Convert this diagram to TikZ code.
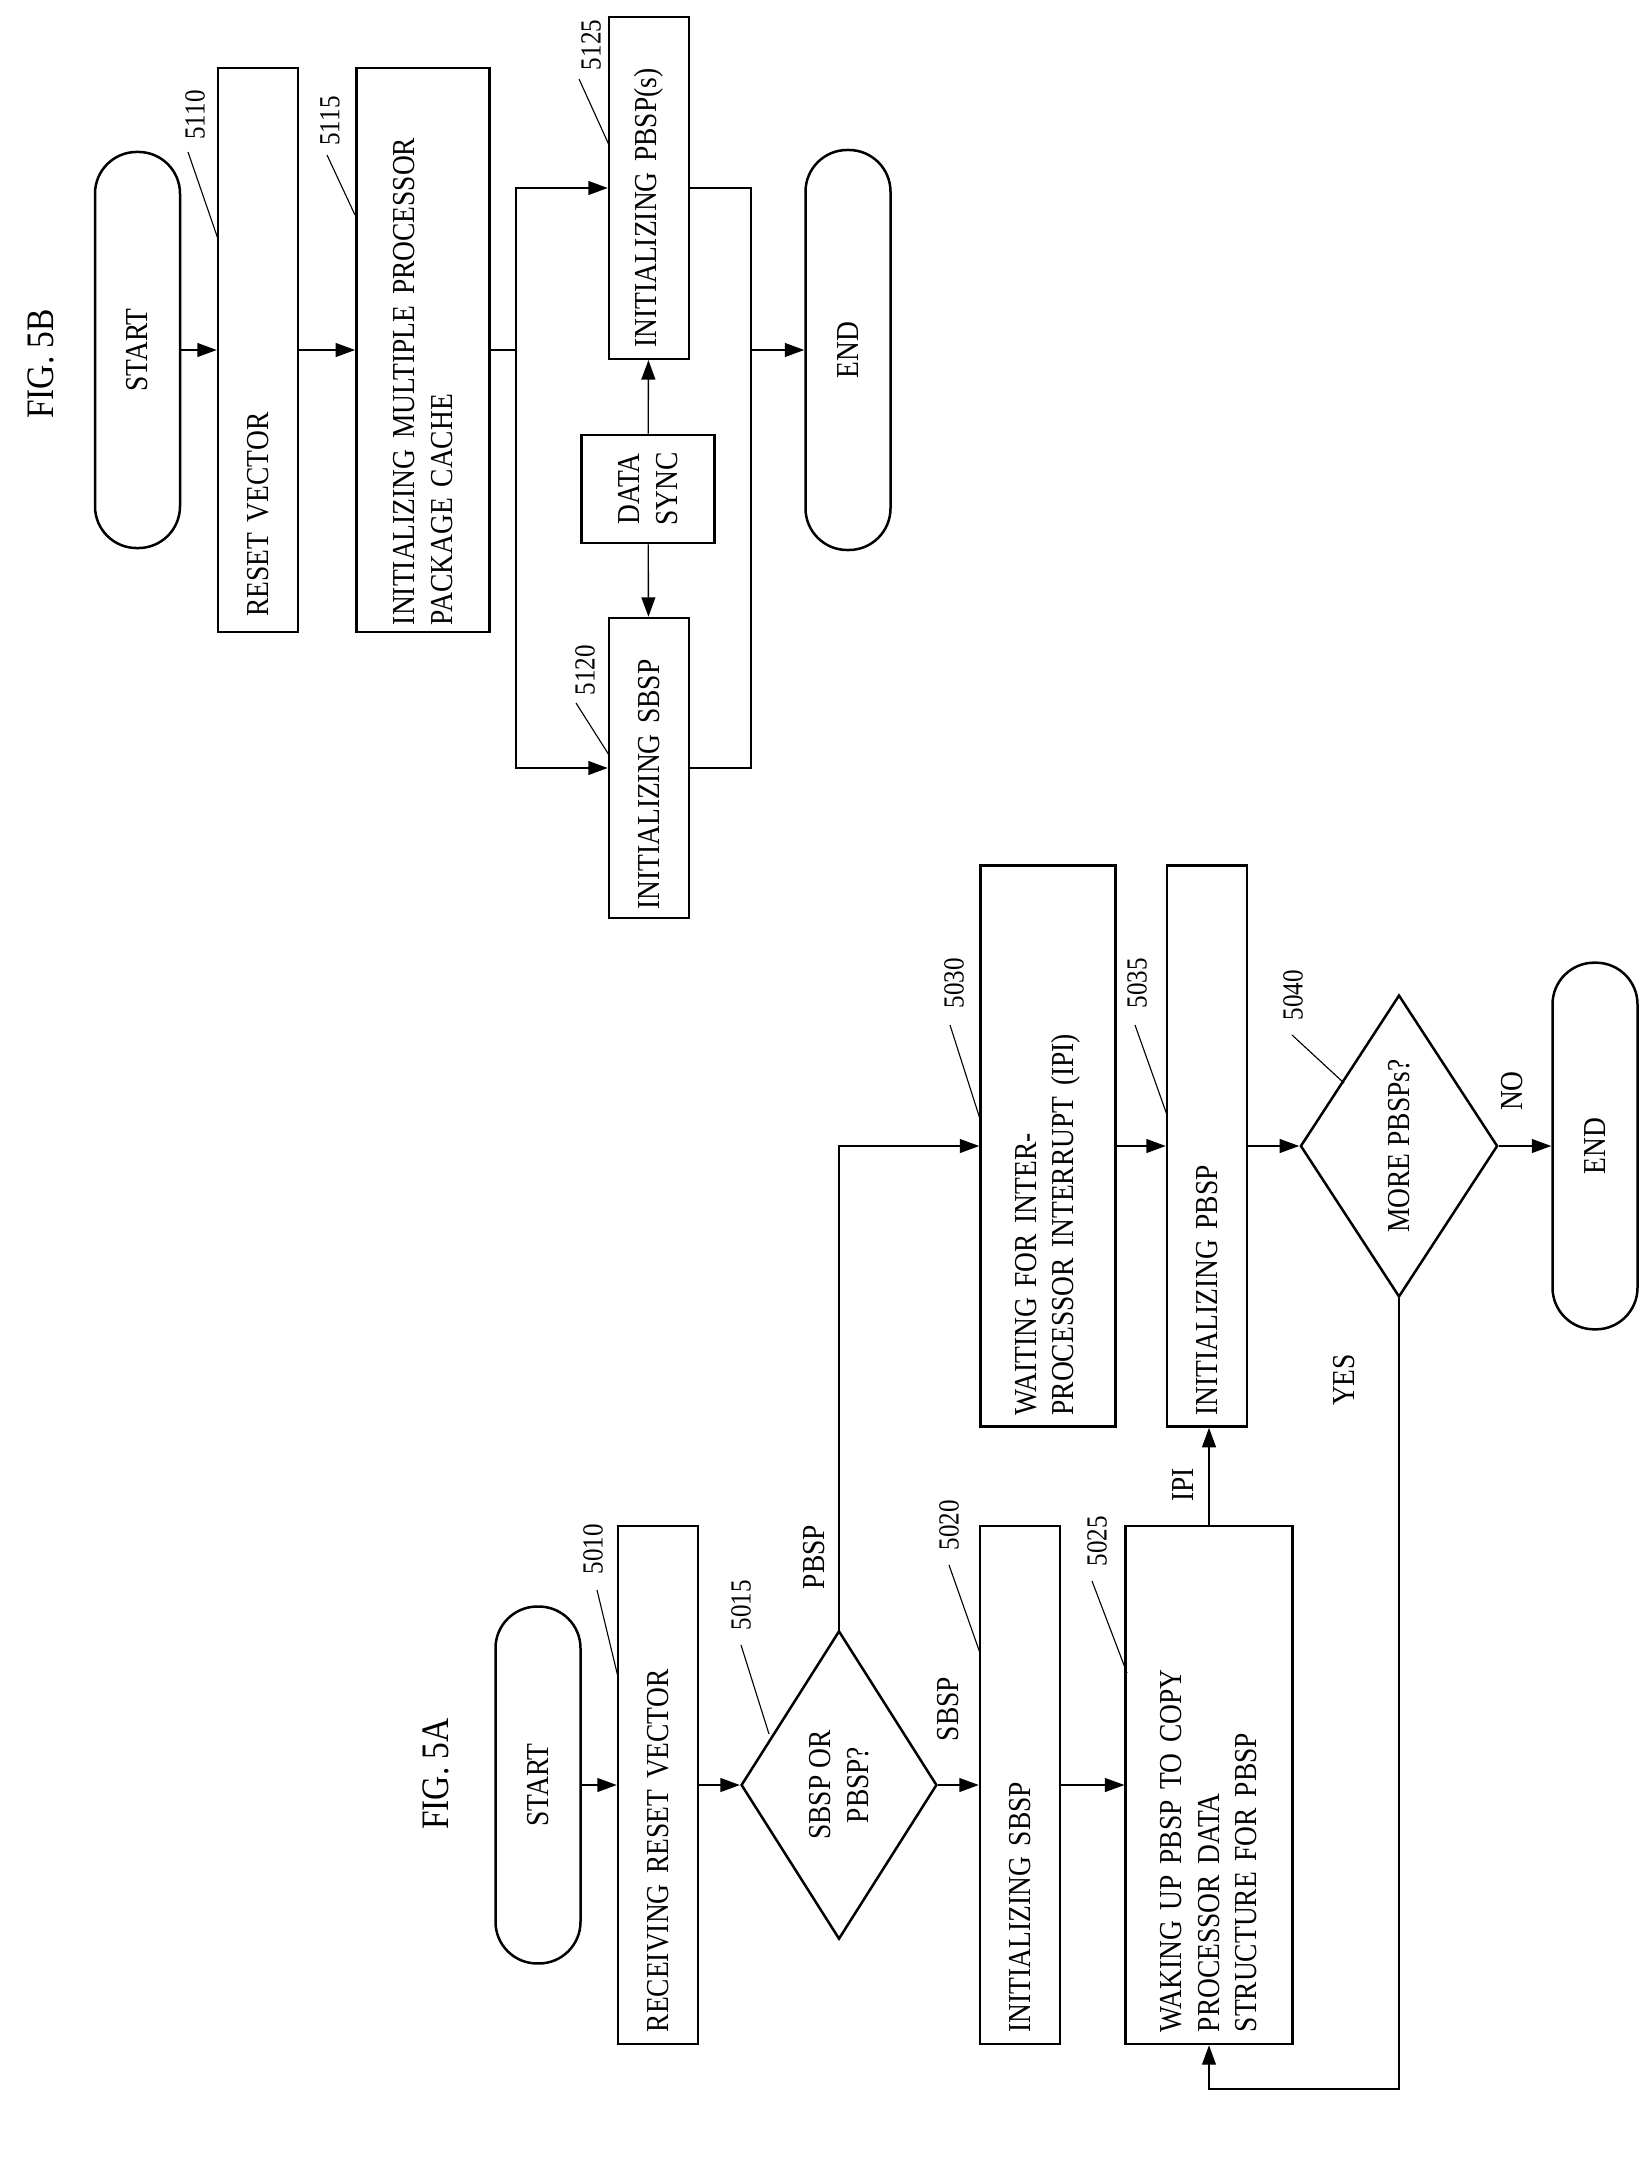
\documentclass[tikz,border=0pt]{standalone}
\usepackage{fontspec}
\setmainfont{Liberation Serif}[FakeStretch=0.86]
\usetikzlibrary{shapes.geometric,arrows.meta}
\begin{document}
\begin{tikzpicture}[x=0.36pt,y=0.36pt,font=\fontsize{11.5}{13.5}\selectfont,
  box/.style={draw, line width=0.9pt, rotate=90, align=left, inner sep=2pt, minimum height=28.8pt},
  term/.style={draw, line width=0.9pt, rotate=90, rounded corners=15pt, minimum height=30.6pt},
  dec/.style={draw, line width=0.9pt, diamond, rotate=90, align=center, inner sep=0pt},
  num/.style={rotate=90, font=\fontsize{10.5}{12}\selectfont},
  lbl/.style={rotate=90},
  flow/.style={-{Triangle[length=7pt,width=5pt]}, line width=0.5pt},
  lead/.style={line width=0.4pt}]
\useasboundingbox (0,0) rectangle (1645,-2164);

% FIG. 5B
\node[lbl, font=\fontsize{14}{16}\selectfont] (figB) at (41,-364) {FIG. 5B};
\node[term, minimum width=142.6pt] (startB) at (137.5,-350) {START};
\node[box, minimum width=203pt, text width=192pt] (resetB) at (258,-350) {RESET VECTOR};
\node[box, minimum width=203pt, minimum height=48pt, text width=198pt] (cache) at (423,-350) {INITIALIZING MULTIPLE PROCESSOR\\PACKAGE CACHE};
\node[box, minimum width=123pt, text width=115pt] (pbspB) at (649,-188) {INITIALIZING PBSP(s)};
\node[box, minimum width=108pt, text width=102pt] (sbspB) at (649,-768) {INITIALIZING SBSP};
\node[box, minimum width=39pt, minimum height=48pt, align=center] (dsync) at (648,-489) {DATA\\SYNC};
\node[term, minimum width=144pt] (endB) at (848,-350) {END};
\coordinate (splitB) at (516,-350);
\coordinate (mergeB) at (751,-350);

\draw[flow] (startB) -- (resetB);
\draw[flow] (resetB) -- (cache);
\draw[line width=0.5pt] (cache) -- (splitB);
\draw[flow] (splitB) |- (pbspB);
\draw[flow] (splitB) |- (sbspB);
\draw[flow] (dsync) -- (pbspB);
\draw[flow] (dsync) -- (sbspB);
\draw[line width=0.5pt] (pbspB) -| (mergeB);
\draw[line width=0.5pt] (sbspB) -| (mergeB);
\draw[flow] (mergeB) -- (endB);

\node[num] (n5110) at (195,-115) {5110};
\node[num] (n5115) at (330,-121) {5115};
\node[num] (n5125) at (591,-45) {5125};
\node[num] (n5120) at (585,-670) {5120};
\coordinate (t5110) at (218,-239);
\coordinate (t5115) at (355,-215);
\coordinate (t5125) at (609,-145);
\coordinate (t5120) at (609,-755);
\draw[lead] (188,-152) -- (t5110);
\draw[lead] (327,-155) -- (t5115);
\draw[lead] (579,-79) -- (t5125);
\draw[lead] (576,-703) -- (t5120);

% FIG. 5A
\node[lbl, font=\fontsize{14}{16}\selectfont] (figA) at (436,-1774) {FIG. 5A};
\node[term, minimum width=128.5pt] (startA) at (538,-1785) {START};
\node[box, minimum width=186.5pt, text width=178pt] (recv) at (658,-1785) {RECEIVING RESET VECTOR};
\node[dec, minimum width=111pt, minimum height=70.5pt] (which) at (839,-1785) {SBSP OR\\PBSP?};
\node[box, minimum width=202pt, minimum height=48.6pt, text width=194pt] (waitA) at (1048,-1146) {WAITING FOR INTER-\\PROCESSOR INTERRUPT (IPI)};
\node[box, minimum width=186.5pt, text width=178pt] (sbspA) at (1020,-1785) {INITIALIZING SBSP};
\node[box, minimum width=186.5pt, minimum height=60pt, text width=178pt] (wake) at (1209,-1785) {WAKING UP PBSP TO COPY\\PROCESSOR DATA\\STRUCTURE FOR PBSP};
\node[box, minimum width=202pt, text width=194pt] (pbspA) at (1207,-1146) {INITIALIZING PBSP};
\node[dec, minimum width=108.7pt, minimum height=71pt] (more) at (1399,-1146) {MORE PBSPs?};
\node[term, minimum width=132pt] (endA) at (1595,-1146) {END};
\coordinate (loopA) at (1399,-2089);

\draw[flow] (startA) -- (recv);
\draw[flow] (recv) -- (which);
\draw[flow] (which.east) |- (waitA);
\draw[flow] (which) -- (sbspA);
\draw[flow] (sbspA) -- (wake);
\draw[flow] (waitA) -- (pbspA);
\draw[flow] (wake.east) -- (pbspA.west -| wake.east);
\draw[flow] (pbspA) -- (more);
\draw[flow] (more) -- (endA);
\draw[flow] (more.west) -- (loopA) -| (wake.west);

\node[lbl] (lpbsp) at (814,-1557) {PBSP};
\node[lbl] (lsbsp) at (948,-1709) {SBSP};
\node[lbl] (lipi) at (1183,-1485) {IPI};
\node[lbl] (lno) at (1512,-1091) {NO};
\node[lbl] (lyes) at (1344,-1380) {YES};

\node[num] (n5010) at (593,-1549) {5010};
\node[num] (n5015) at (741,-1605) {5015};
\node[num] (n5020) at (949,-1525) {5020};
\node[num] (n5025) at (1097,-1541) {5025};
\node[num] (n5030) at (954,-983) {5030};
\node[num] (n5035) at (1137,-983) {5035};
\node[num] (n5040) at (1293,-995) {5040};
\draw[lead] (597,-1590) -- (618,-1677);
\draw[lead] (741,-1645) -- (769,-1734);
\draw[lead] (949,-1565) -- (980,-1653);
\draw[lead] (1092,-1581) -- (1127,-1673);
\draw[lead] (950,-1025) -- (980,-1119);
\draw[lead] (1135,-1025) -- (1167,-1115);
\draw[lead] (1292,-1035) -- (1344,-1083);
\end{tikzpicture}
\end{document}
